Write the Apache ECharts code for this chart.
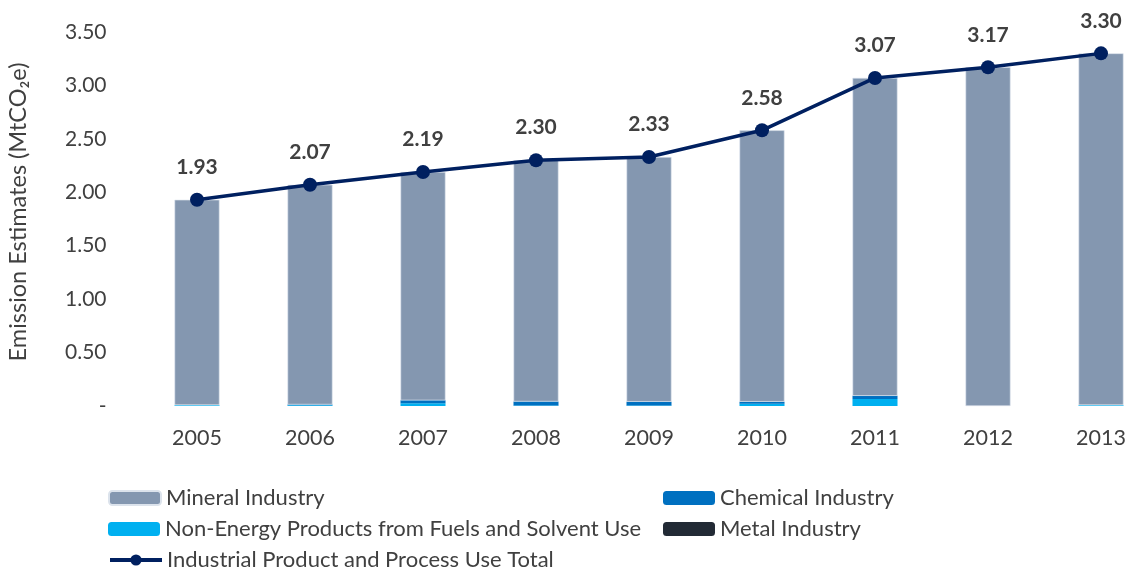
<!DOCTYPE html>
<html>
<head>
<meta charset="utf-8">
<script src="https://cdn.jsdelivr.net/npm/echarts@6/dist/echarts.min.js"></script>
<style>
  html, body { margin: 0; padding: 0; background: #fff; }
  #chart { width: 1125px; height: 568px; }
</style>
</head>
<body>
<div id="chart"></div>
<script>
// Industrial Product and Process Use emissions, MtCO2e
const years = ['2005', '2006', '2007', '2008', '2009', '2010', '2011', '2012', '2013'];
const totalUse = [1.93, 2.07, 2.19, 2.30, 2.33, 2.58, 3.07, 3.17, 3.30];
const nonEnergy = [0.008, 0.008, 0.025, 0.005, 0.005, 0.022, 0.065, 0.0, 0.008];
const chemical = [0.0, 0.006, 0.028, 0.037, 0.035, 0.018, 0.03, 0.0, 0.0];
const metal = [0, 0, 0, 0, 0, 0, 0, 0, 0];
const mineral = [1.922, 2.056, 2.137, 2.258, 2.29, 2.54, 2.975, 3.17, 3.292];
const yTicks = ['-', '0.50', '1.00', '1.50', '2.00', '2.50', '3.00', '3.50'];

const font = 'Lato, "Open Sans", sans-serif';
const textColor = '#404040';

const chart = echarts.init(document.getElementById('chart'));

const barBase = {
  type: 'bar',
  stack: 'ippu',
  barWidth: 45
};

// one legend block per entry, laid out in two columns
function legendItem(entry, left, top) {
  return {
    left: left, top: top, orient: 'horizontal',
    itemWidth: 52, itemHeight: 14, itemGap: 6,
    textStyle: { color: textColor, fontSize: 22, fontFamily: font },
    data: [entry]
  };
}

chart.setOption({
  animation: false,
  textStyle: { fontFamily: font },
  grid: {
    left: 140.5, right: -32.5, top: 32, bottom: 162,
    containLabel: false,
    outerBoundsMode: 'none'
  },
  xAxis: {
    type: 'category',
    data: years,
    axisLine: { show: false },
    axisTick: { show: false },
    axisLabel: { color: textColor, fontSize: 21.5, margin: 21, fontFamily: font }
  },
  yAxis: {
    type: 'value',
    min: 0,
    max: 3.5,
    interval: 0.5,
    name: 'Emission Estimates (MtCO\u2082e)',
    nameLocation: 'middle',
    nameGap: 110,
    nameRotate: 90,
    nameTextStyle: { color: textColor, fontSize: 23.5, fontFamily: font, padding: [0, 0, 0, 14] },
    axisLine: { show: false },
    axisTick: { show: false },
    splitLine: { show: false },
    axisLabel: {
      color: textColor,
      fontSize: 21,
      margin: 34,
      fontFamily: font,
      formatter: v => yTicks[Math.round(v / 0.5)]
    }
  },
  legend: [
    legendItem('Mineral Industry', 103, 482),
    legendItem('Non-Energy Products from Fuels and Solvent Use', 103, 513),
    legendItem({
      name: 'Industrial Product and Process Use Total',
      lineStyle: { width: 4, color: '#002060' },
      itemStyle: { color: '#002060' }
    }, 103, 544),
    legendItem('Chemical Industry', 658, 482),
    legendItem('Metal Industry', 658, 513)
  ],
  series: [
    Object.assign({}, barBase, {
      name: 'Non-Energy Products from Fuels and Solvent Use',
      data: nonEnergy,
      itemStyle: { color: '#00B0F0' }
    }),
    Object.assign({}, barBase, {
      name: 'Chemical Industry',
      data: chemical,
      itemStyle: { color: '#0070C0' }
    }),
    Object.assign({}, barBase, {
      name: 'Metal Industry',
      data: metal,
      itemStyle: { color: '#222A35' }
    }),
    Object.assign({}, barBase, {
      name: 'Mineral Industry',
      data: mineral,
      itemStyle: { color: '#8497B0', borderColor: '#DCE3EC', borderWidth: 0.6 }
    }),
    {
      name: 'Industrial Product and Process Use Total',
      type: 'line',
      data: totalUse,
      symbol: 'circle',
      symbolSize: 14,
      lineStyle: { color: '#002060', width: 3.5 },
      itemStyle: { color: '#002060' },
      z: 5,
      label: {
        show: true,
        position: 'top',
        distance: 15,
        color: textColor,
        fontSize: 21,
        fontWeight: 'bold',
        fontFamily: font,
        formatter: p => p.value.toFixed(2)
      }
    }
  ]
});
</script>
</body>
</html>
